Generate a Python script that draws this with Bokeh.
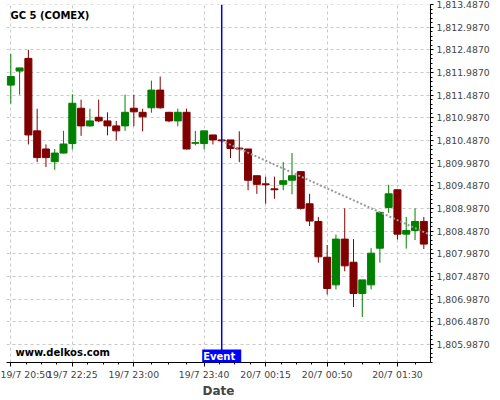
from bokeh.plotting import figure
from bokeh.models import (Range1d, FixedTicker, NumeralTickFormatter, Span, Label,
                          ColumnDataSource)
from bokeh.embed import file_html
from bokeh.resources import INLINE

# ---- data (5-minute candles, GC COMEX) ----
opens  = [1811.71, 1812.02, 1812.30, 1810.70, 1810.30, 1810.02, 1810.21, 1810.42,
          1811.20, 1810.81, 1811.00, 1810.92, 1810.81, 1810.81, 1811.20, 1811.11,
          1811.21, 1811.60, 1811.11, 1810.92, 1811.11, 1810.425, 1810.42, 1810.61,
          1810.50, 1810.50, 1810.32, 1810.30, 1809.71, 1809.53, 1809.42, 1809.52,
          1809.61, 1809.80, 1809.09, 1808.70, 1807.91, 1807.30, 1808.31, 1807.80,
          1807.11, 1807.30, 1808.11, 1809.01, 1809.40, 1808.42, 1808.50, 1808.70]
highs  = [1812.40, 1812.09, 1812.49, 1811.19, 1810.40, 1810.30, 1810.70, 1811.51,
          1811.39, 1811.19, 1811.39, 1811.11, 1810.92, 1811.50, 1811.50, 1811.19,
          1811.81, 1811.90, 1811.12, 1811.19, 1811.19, 1810.70, 1810.70, 1810.61,
          1810.51, 1810.50, 1810.69, 1810.30, 1809.71, 1809.69, 1809.69, 1810.01,
          1810.21, 1809.80, 1809.31, 1808.80, 1808.18, 1808.41, 1808.99, 1808.31,
          1807.41, 1808.11, 1808.90, 1809.51, 1809.40, 1808.80, 1808.99, 1808.80]
lows   = [1811.30, 1811.50, 1810.40, 1810.01, 1809.90, 1809.84, 1810.20, 1810.29,
          1810.59, 1810.79, 1810.89, 1810.60, 1810.49, 1810.70, 1810.80, 1810.69,
          1811.10, 1811.19, 1810.89, 1810.80, 1810.29, 1810.38, 1810.29, 1810.40,
          1810.45, 1810.10, 1810.01, 1809.39, 1809.31, 1809.09, 1809.20, 1809.39,
          1809.30, 1808.96, 1808.60, 1807.79, 1807.09, 1807.20, 1807.60, 1806.81,
          1806.59, 1807.20, 1807.79, 1808.89, 1808.30, 1808.10, 1808.29, 1808.09]
closes = [1811.90, 1812.09, 1810.61, 1810.11, 1810.11, 1810.21, 1810.41, 1811.31,
          1810.81, 1810.92, 1810.92, 1810.81, 1810.70, 1811.11, 1811.12, 1811.01,
          1811.60, 1811.21, 1810.92, 1811.11, 1810.30, 1810.44, 1810.70, 1810.50,
          1810.48, 1810.31, 1810.30, 1809.61, 1809.52, 1809.51, 1809.40, 1809.60,
          1809.71, 1808.99, 1808.71, 1807.92, 1807.22, 1808.31, 1807.72, 1807.11,
          1807.41, 1808.00, 1808.90, 1809.31, 1808.42, 1808.50, 1808.70, 1808.20]

x_tick_idx = [0, 7, 14, 22, 29, 36, 44]
x_tick_labels = ["19/7 20:50", "19/7 22:25", "19/7 23:00", "19/7 23:40",
                 "20/7 00:15", "20/7 00:50", "20/7 01:30"]
y_ticks = [1805.987, 1806.487, 1806.987, 1807.487, 1807.987, 1808.487, 1808.987,
           1809.487, 1809.987, 1810.487, 1810.987, 1811.487, 1811.987, 1812.487,
           1812.987, 1813.487]

event_idx = 24
trend_x = [24, 47.76]
trend_y = [1810.48, 1808.40]

title_text = "GC 5 (COMEX)"
watermark = "www.delkos.com"

# ---- build ----
n = len(opens)
idx = list(range(n))
up = [c >= o for o, c in zip(opens, closes)]
colors = ["#008000" if u else "#800000" for u in up]
src = ColumnDataSource(dict(x=idx, o=opens, h=highs, l=lows, c=closes,
                            top=[max(o, c) for o, c in zip(opens, closes)],
                            bottom=[min(o, c) for o, c in zip(opens, closes)],
                            color=colors))

FONT = "DejaVu Sans"
p = figure(width=500, height=400, output_backend="svg", toolbar_location=None,
           x_range=Range1d(-0.49, 47.76), y_range=Range1d(1805.586, 1813.49),
           y_axis_location="right", min_border_left=6, min_border_top=4,
           min_border_right=70, min_border_bottom=36)
p.outline_line_color = None
p.background_fill_color = "white"

# grids
p.xgrid.ticker = FixedTicker(ticks=x_tick_idx)
p.ygrid.ticker = FixedTicker(ticks=y_ticks)
for g in (p.xgrid, p.ygrid):
    g.grid_line_color = "#c8c8c8"
    g.grid_line_dash = "3 3"
    g.grid_line_width = 1

# x axis
minor_x = []
for a, b in zip(x_tick_idx[:-1], x_tick_idx[1:]):
    step = (b - a) / 4
    minor_x += [a + step * k for k in range(1, 4)]
last_step = (x_tick_idx[-1] - x_tick_idx[-2]) / 4
minor_x += [x_tick_idx[-1] + last_step * k for k in range(1, 3)]
xa = p.xaxis[0]
xa.ticker = FixedTicker(ticks=x_tick_idx, minor_ticks=minor_x)
xa.major_label_overrides = {i: s for i, s in zip(x_tick_idx, x_tick_labels)}
xa.axis_label = "Date"
xa.axis_label_text_font = FONT
xa.axis_label_text_font_style = "bold"
xa.axis_label_text_font_size = "12px"
xa.axis_label_standoff = 1
xa.major_label_text_font = FONT
xa.major_label_text_font_size = "9.3px"
xa.major_label_standoff = 2
xa.major_tick_out = 4
xa.major_tick_in = 0
xa.minor_tick_out = 2
xa.minor_tick_in = 0
xa.axis_line_color = "black"

# y axis (right)
ya = p.yaxis[0]
ya.ticker = FixedTicker(ticks=y_ticks,
                        minor_ticks=[y_ticks[0] - 0.4 + 0.1 * k for k in range(0, 4 + 5 * (len(y_ticks) - 1) + 1)])
ya.formatter = NumeralTickFormatter(format="0,0.0000")
ya.major_label_text_font = FONT
ya.major_label_text_font_size = "9.3px"
ya.major_label_standoff = 3
ya.major_tick_out = 3
ya.major_tick_in = 0
ya.minor_tick_out = 2
ya.minor_tick_in = 0
ya.axis_line_color = "black"

# candles
p.segment(x0="x", y0="l", x1="x", y1="h", source=src, line_color="color", line_width=1)
p.vbar(x="x", width=0.8, top="top", bottom="bottom", source=src,
       fill_color="color", line_color="color", line_width=1)

# trend line
p.line(trend_x, trend_y, line_dash="2 2", line_width=2, line_color="#999999")

# event
p.add_layout(Span(location=event_idx, dimension="height", line_color="#0000dd",
                  line_width=1.5))
p.add_layout(Label(x=event_idx, y=p.y_range.start, y_offset=-5, text="Event",
                   text_align="center", text_baseline="bottom",
                   text_font=FONT, text_font_style="bold", text_font_size="10px",
                   text_color="white", background_fill_color="#0000ff",
                   padding=[1, 6, 1, 6], level="overlay"))

# trend label
p.add_layout(Label(x=p.x_range.end, y=trend_y[-1], x_offset=1, text="Trend",
                   text_align="left", text_baseline="middle",
                   text_font=FONT, text_font_style="bold", text_font_size="10px",
                   text_color="white", background_fill_color="#808080",
                   padding=[1, 3, 1, 3], level="overlay"))

# title and watermark
p.add_layout(Label(x=p.x_range.start, y=p.y_range.end, x_offset=4, y_offset=-11,
                   text=title_text, text_align="left", text_baseline="middle",
                   text_font=FONT, text_font_style="bold", text_font_size="10px",
                   text_color="black"))
p.add_layout(Label(x=p.x_range.start, y=p.y_range.start, x_offset=9, y_offset=10,
                   text=watermark, text_align="left", text_baseline="middle",
                   text_font=FONT, text_font_style="bold", text_font_size="10px",
                   text_color="black"))

open("out.html", "w").write(file_html(p, INLINE))
